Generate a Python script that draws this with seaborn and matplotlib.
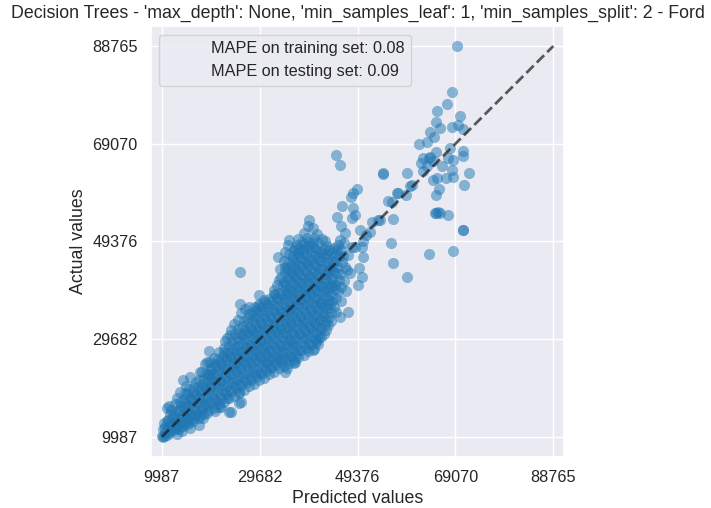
import numpy as np
import pandas as pd
import matplotlib
matplotlib.use("Agg")
import matplotlib.pyplot as plt
import seaborn as sns

sns.set_theme(style="darkgrid")
plt.rcParams["font.family"] = ["Liberation Sans", "DejaVu Sans"]

model_name = "Decision Trees"
params_text = "'max_depth': None, 'min_samples_leaf': 1, 'min_samples_split': 2"
brand = "Ford"
mape_train = 0.08
mape_test = 0.09

# Test-set predictions of the tuned tree, cheaper cars (bulk of the data)
low_pred = [
    9987, 10300, 10650, 10200, 11000, 11300, 11100,
    11700, 12000, 12200, 12500, 11900, 11050, 11500,
    12900, 13100, 13300, 13000, 13500, 13600, 13100,
    14000, 14200, 13900, 14300, 14200, 14500, 14100,
    15000, 15200, 14900, 15300, 15600, 15100, 15600,
    16000, 16100, 15900, 16300, 16600, 16200, 16800,
    17000, 17100, 16900, 17300, 17500, 17600, 17400,
    18000, 18100, 17900, 18300, 18200, 18000, 18600,
    19000, 19100, 18900, 19300, 19200, 19500, 19100,
    20000, 20100, 19900, 20200, 20000, 19600, 19700, 20800,
    21000, 21100, 20900, 21200, 21000, 21300, 21600,
    22000, 22100, 21900, 22200, 22000, 22300, 22600, 22000,
    23000, 23100, 22900, 23200, 23000, 23300, 23200, 23200, 23600,
    24000, 24100, 23900, 24200, 24000, 24300, 24100, 24000, 24000,
    25000, 25100, 24900, 25200, 25000, 25300, 25100, 25400, 25600, 25600,
]
low_actual = [
    10150, 9987, 10900, 11500, 10400, 12000, 13200,
    11100, 12600, 14000, 11400, 15500, 15900, 16300,
    12300, 13700, 15200, 10500, 11600, 19100, 17800,
    13000, 14600, 16200, 12100, 21500, 17600, 11200,
    13800, 15300, 16900, 12600, 22100, 18600, 11800,
    14400, 16000, 17600, 19000, 14400, 13200, 21000,
    15200, 16800, 18400, 20000, 12400, 23100, 13900,
    15600, 17300, 19000, 20600, 13800, 23100, 24600,
    16200, 17900, 19600, 21300, 25100, 22700, 14900,
    16800, 18500, 20200, 21900, 23500, 27400, 25000, 15200,
    17300, 19100, 20800, 22500, 24200, 25600, 16100,
    17800, 19600, 21300, 23000, 24700, 26300, 28000, 16000,
    18600, 20300, 22000, 23700, 25400, 27100, 30000, 17800, 15100,
    19200, 20900, 22600, 24300, 26000, 27700, 29400, 31600, 15000,
    19800, 21500, 23200, 24900, 26600, 28300, 30000, 31700, 16900, 18900,
]

# Mid-price cars
mid_pred = [
    26000, 26100, 25900, 26200, 26000, 26300, 26100, 26400, 25700, 26000, 26000, 25800,
    27000, 27100, 26900, 27200, 27000, 27300, 27100, 27400, 27600,
    28000, 28100, 27900, 28200, 28000, 28300, 28100, 28400, 28200,
    29000, 29100, 28900, 29200, 29000, 29300, 29100, 29400, 29000, 29600,
    30000, 30100, 29900, 30200, 30000, 30300, 30100, 30400, 30200, 30600,
    31000, 31100, 30900, 31200, 31000, 31300, 31100, 31400, 31200, 31100,
    32000, 32100, 31900, 32200, 32000, 32300, 32100, 32400, 32200, 32500,
    33000, 33100, 32900, 33200, 33000, 33300, 33100, 33400, 33200, 33100, 33400, 33300,
    34000, 34100, 33900, 34200, 34000, 34300, 34100, 34400, 34200, 34300, 34000, 34700, 34700,
    35000, 35100, 34900, 35200, 35000, 35300, 35100, 35400, 35200, 35000, 35300, 35100, 35300, 35100,
    36000, 36100, 35900, 36200, 36000, 36300, 36100, 36400, 36200, 36000, 36300, 36100, 36400, 36800, 36600, 36800,
]
mid_actual = [
    20400, 22100, 23800, 25500, 27200, 28900, 30600, 32300, 36700, 35000, 17100, 43300,
    21000, 22700, 24400, 26100, 27800, 29500, 31200, 32900, 34800,
    21400, 23100, 24800, 26500, 28200, 29900, 31600, 33300, 35000,
    22000, 23700, 25400, 27100, 28800, 30500, 32200, 33900, 35500, 36800,
    22600, 24300, 26000, 27700, 29400, 31100, 32800, 34500, 36200, 37600,
    23200, 24900, 26600, 28300, 30000, 31700, 33400, 35100, 36800, 25100,
    23800, 25500, 27200, 28900, 30600, 32300, 34000, 35700, 37400, 38800,
    24400, 26100, 27800, 29500, 31200, 32900, 34600, 36300, 38000, 40600, 46300, 25900,
    25000, 26700, 28400, 30100, 31800, 33500, 35200, 36900, 38600, 40600, 42300, 44300, 23100,
    25400, 27100, 28800, 30500, 32200, 33900, 35600, 37300, 39000, 40700, 42400, 44100, 48700, 23900,
    26000, 27700, 29400, 31100, 32800, 34500, 36200, 37900, 39600, 41300, 43000, 44700, 46400, 48100, 24900, 25100,
]

# Upper-mid cars
upper_pred = [
    37000, 37100, 36900, 37200, 37000, 37300, 37100, 37400, 37200, 37000, 37300, 37100, 37400, 37200,
    38000, 38100, 37900, 38200, 38000, 38300, 38100, 38400, 38200, 38000, 38300, 38100, 38400, 38200,
    39000, 39100, 38900, 39200, 39000, 39300, 39100, 39400, 39200, 39000, 39300, 39100, 39400, 39200, 39600,
    40000, 40100, 39900, 40200, 40000, 40300, 40100, 40400, 40200, 40000, 40300, 40100, 40400, 40400, 40400,
    41000, 41100, 40900, 41200, 41000, 41300, 41100, 41400, 41200, 41000, 41300, 41100, 41200, 41200,
    42000, 42100, 41900, 42200, 42000, 42300, 42100, 42400, 42200, 42000, 42300, 42200, 41800,
    43000, 43100, 42900, 43200, 43000, 43300, 43100, 43400, 43200, 43000, 43300,
    44000, 44100, 43900, 44200, 44000, 44300, 44100, 44400, 44200, 44200,
    45000, 45100, 44900, 45200, 45000, 45300, 45800, 45800,
    46000, 46100, 45900, 46200, 46000, 46800, 46000,
    47400, 47000, 47200, 47800, 47500, 48300, 48800, 49400, 49600, 50200, 50400, 50200, 49800,
]
upper_actual = [
    26600, 28300, 30000, 31700, 33400, 35100, 36800, 38500, 40200, 41900, 43600, 45300, 47000, 48600,
    27500, 29100, 30800, 32500, 34200, 35900, 37600, 39300, 41000, 42700, 44400, 46100, 47800, 49300,
    28000, 29700, 31400, 33100, 34800, 36500, 38200, 39900, 41600, 43300, 45000, 46700, 48400, 50100, 53800,
    28600, 30300, 32000, 33700, 35400, 37100, 38800, 40500, 42200, 43900, 45600, 47300, 49000, 52000, 27500,
    29200, 30900, 32600, 34300, 36000, 37700, 39400, 41100, 42800, 44500, 46200, 47900, 50800, 29600,
    30200, 31900, 33600, 35300, 37000, 38700, 40400, 42100, 43800, 45500, 47200, 49900, 31600,
    31600, 33300, 35000, 36700, 38400, 40100, 41800, 43500, 45200, 46900, 48400,
    33400, 35100, 36800, 38500, 40200, 41900, 43600, 45300, 47000, 37300,
    35200, 38000, 40600, 43000, 45400, 47600, 34200, 49700,
    37400, 40300, 42900, 45300, 47700, 51100, 52600,
    35200, 39400, 43600, 43100, 46600, 48300, 48300, 40600, 44100, 42300, 46300, 48300, 51700,
]

# Further cars inside the crowded band
band_pred = [
    10500, 10700, 10400,
    11500, 11700, 11300, 11600,
    12600, 12800, 12400, 12700,
    13600, 13800, 13400, 13700,
    14600, 14800, 14400, 14700, 14900,
    15500, 15700, 15300, 15600, 15400,
    16500, 16700, 16300, 16600, 16400,
    17600, 17800, 17400, 17700, 17500,
    18500, 18700, 18300, 18600, 18400, 18800,
    19600, 19800, 19400, 19700, 19500, 19900,
    20500, 20700, 20300, 20600, 20400, 20800, 20500,
    21500, 21700, 21300, 21600, 21400, 21800, 21500,
    22600, 22800, 22400, 22700, 22500, 22900, 22600, 22800,
    23500, 23700, 23300, 23600, 23400, 23800, 23500, 23700,
    24600, 24800, 24400, 24700, 24500, 24900, 24600, 24800, 24500,
    25500, 25700, 25300, 25600, 25400, 25800, 25500, 25700, 25400,
    26600, 26800, 26400, 26700, 26500, 26900, 26600, 26800, 26500, 26700,
    27500, 27700, 27300, 27600, 27400, 27800, 27500, 27700, 27400, 27600,
    28600, 28800, 28400, 28700, 28500, 28900, 28600, 28800, 28500, 28700,
    29500, 29700, 29300, 29600, 29400, 29800, 29500, 29700, 29400, 29600, 29500,
    30600, 30800, 30400, 30700, 30500, 30900, 30600, 30800, 30500, 30700,
    31500, 31700, 31300, 31600, 31400, 31800, 31500, 31700, 31400, 31600,
    32600, 32800, 32400, 32700, 32500, 32900, 32600, 32800, 32500, 32700, 32600,
    33500, 33700, 33300, 33600, 33400, 33800, 33500, 33700, 33400, 33600, 33500, 33800,
    34600, 34800, 34400, 34700, 34500, 34900, 34600, 34800, 34500, 34700, 34600, 34800, 34500, 34700,
    35500, 35700, 35300, 35600, 35400, 35800, 35500, 35700, 35400, 35600, 35500, 35700, 35400, 35600, 35500,
    36600, 36800, 36400, 36700, 36500, 36900, 36600, 36800, 36500, 36700, 36600, 36800, 36500, 36700,
    37500, 37700, 37300, 37600, 37400, 37800, 37500, 37700, 37400, 37600, 37500, 37700, 37400, 37600, 37500,
    38600, 38800, 38400, 38700, 38500, 38900, 38600, 38800, 38500, 38700, 38600, 38800, 38500, 38700, 38600,
    39500, 39700, 39300, 39600, 39400, 39800, 39500, 39700, 39400, 39600, 39500, 39700, 39400, 39600, 39500,
    40600, 40800, 40400, 40700, 40500, 40900, 40600, 40800, 40500, 40700, 40600, 40800, 40500, 40700,
    41500, 41700, 41300, 41600, 41400, 41800, 41500, 41700, 41400, 41600, 41500, 41700, 41400,
    42600, 42800, 42400, 42700, 42500, 42900, 42600, 42800, 42500, 42700, 42600, 42800,
    43500, 43700, 43300, 43600, 43400, 43800, 43500, 43700, 43400, 43600,
    44600, 44800, 44400, 44700, 44500, 44900, 44600,
    45500, 45700, 45300, 45600, 45400,
    46600, 46800, 46400, 46700,
]
band_actual = [
    10200, 11900, 12700,
    10800, 12500, 13500, 14700,
    11700, 12900, 14500, 16700,
    12100, 14000, 15400, 17100,
    12900, 14100, 16000, 18800, 20300,
    13100, 14500, 16400, 17900, 19700,
    13800, 15600, 17100, 18500, 20100,
    14400, 16000, 17800, 19400, 21500,
    14700, 16600, 18100, 20000, 21600, 22700,
    15500, 17000, 19000, 20500, 22400, 23900,
    15900, 17700, 19300, 21200, 22700, 24700, 25900,
    16600, 18100, 20100, 21500, 23500, 25000, 27100,
    17100, 19000, 20500, 22400, 23900, 25900, 27100, 29400,
    17800, 19400, 21300, 22800, 24700, 26300, 28300, 30500,
    18200, 20200, 21700, 23600, 25100, 27100, 28600, 30700, 32700,
    19100, 20600, 22500, 24000, 25900, 27400, 29300, 30900, 33600,
    19500, 21400, 22900, 24800, 26300, 28200, 29700, 31600, 33300, 35700,
    20300, 21800, 23700, 25200, 27100, 28600, 30500, 32000, 33900, 36100,
    20600, 22600, 24100, 26000, 27500, 29400, 30900, 32800, 34300, 36100,
    21400, 22900, 24800, 26300, 28200, 29700, 31600, 33100, 35000, 36400, 38500,
    21800, 23700, 25200, 27100, 28600, 30500, 32000, 33900, 35400, 37100,
    22700, 24100, 26000, 27500, 29400, 30900, 32800, 34300, 36200, 37700,
    23000, 24900, 26400, 28300, 29800, 31700, 33200, 35100, 36600, 38500, 39700,
    23800, 25500, 27300, 28800, 30700, 32200, 34100, 35600, 37500, 39000, 41700, 43800,
    24200, 26100, 27600, 29500, 31000, 32900, 34400, 36300, 37800, 39700, 41300, 43300, 45500, 47300,
    24900, 26400, 28300, 29800, 31700, 33200, 35100, 36600, 38500, 40000, 41900, 43400, 45300, 46800, 49700,
    25400, 27300, 28800, 30700, 32200, 34100, 35600, 37500, 39000, 40900, 42400, 44300, 45800, 47700,
    26100, 27600, 29500, 31000, 32900, 34400, 36300, 37800, 39700, 41200, 43100, 44600, 46500, 47900, 49900,
    26600, 28500, 30000, 31900, 33400, 35300, 36800, 38700, 40200, 42100, 43600, 45500, 47000, 48900, 51100,
    27400, 28900, 30800, 32300, 34200, 35700, 37600, 39100, 41000, 42500, 44400, 45900, 47800, 49300, 52500,
    27800, 29700, 31200, 33100, 34600, 36500, 38000, 39900, 41400, 43300, 44800, 46700, 48200, 50100,
    28700, 30200, 32100, 33600, 35500, 37000, 38900, 40400, 42300, 43800, 45700, 47200, 49100,
    30800, 32700, 34200, 36100, 37600, 39500, 41000, 42900, 44400, 46300, 47800, 49500,
    32600, 34100, 36000, 37500, 39400, 40900, 42800, 44300, 46200, 47700,
    36200, 39800, 41300, 43200, 44700, 46600, 48100,
    39300, 41700, 44300, 46500, 48700,
    41500, 44300, 46500, 49100,
]

# Sparse expensive cars
high_pred = [
    45200, 46200, 48200, 48400, 48800, 49200, 48400, 48000, 45100, 45900,
    52200, 53500, 53900, 55500, 56300, 57300, 56600, 54500, 54600, 59300,
    60300, 60000, 59100, 57600, 56200, 56500, 59300, 63800, 68500, 70500,
    70500, 65100, 65900, 67600, 63900, 64500, 65000, 65600,
    69400, 68300, 67300, 65300, 70000, 65100, 65900, 68300, 69600, 70500,
    63900, 64800, 61800, 63300, 67900, 70500, 70500, 65100, 62600, 63800,
    64500, 62200, 63300, 67600, 68600, 66300, 62600, 68300, 71800, 65400,
    67100, 68600, 70900, 65800, 65100, 51000, 51800, 50500,
]
high_actual = [
    54400, 56500, 54200, 56200, 54800, 60000, 59200, 58400, 66900, 64800,
    53300, 53700, 53800, 57500, 57400, 59200, 54000, 62900, 63100, 63200,
    60800, 60500, 58800, 59100, 49100, 45000, 42200, 46900, 47500, 51700,
    51700, 55100, 55100, 54700, 66400, 61800, 55200, 55400,
    88765, 79500, 77100, 75600, 74700, 73400, 72200, 72400, 72900, 72000,
    71500, 70400, 69100, 69500, 68200, 67700, 66600, 67500, 66200, 66200,
    65600, 65200, 64600, 66200, 65800, 64600, 63600, 63800, 63200, 62200,
    62200, 62400, 60700, 60000, 58800, 50700, 51300, 49500,
]

predicted = np.array(low_pred + mid_pred + upper_pred + band_pred + high_pred, dtype=float)
actual = np.array(low_actual + mid_actual + upper_actual + band_actual + high_actual, dtype=float)
df = pd.DataFrame({"Predicted values": predicted, "Actual values": actual})

fig = plt.figure(figsize=(7.11, 5.08), dpi=100)
ax = fig.add_axes([151 / 711, 51.5 / 508, 413 / 711, 430 / 508])

sns.scatterplot(data=df, x="Predicted values", y="Actual values", ax=ax,
                s=64, alpha=0.5, color="#1f77b4", linewidth=0)

lo = min(predicted.min(), actual.min())
hi = max(predicted.max(), actual.max())
ax.plot([lo, hi], [lo, hi], "k--", lw=2, alpha=0.7)

ticks = np.linspace(lo, hi, 5)
labels = [f"{t:.0f}" for t in ticks]
ax.set_xticks(ticks)
ax.set_xticklabels(labels)
ax.set_yticks(ticks)
ax.set_yticklabels(labels)
span = hi - lo
ax.set_xlim(lo - 0.0273 * span, hi + 0.0273 * span)
ax.set_ylim(lo - 0.05 * span, hi + 0.05 * span)
ax.tick_params(labelsize=11.7)

ax.plot([], [], " ", label=f"MAPE on training set: {mape_train:.2f}")
ax.plot([], [], " ", label=f"MAPE on testing set: {mape_test:.2f}")
ax.legend(loc="upper left", fontsize=11.7)

ax.set_title(f"{model_name} - {params_text} - {brand}", fontsize=12.8)
ax.set_xlabel("Predicted values", fontsize=12.8)
ax.set_ylabel("Actual values", fontsize=12.8)

fig.savefig("out.png", dpi=100)
